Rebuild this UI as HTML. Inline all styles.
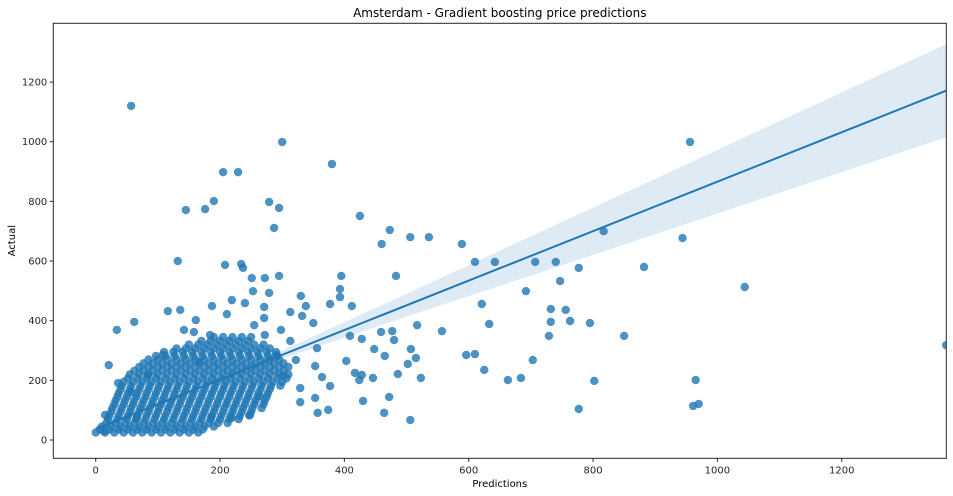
<!DOCTYPE html>
<html><head><meta charset="utf-8"><style>
body{margin:0;background:#fff;}
svg{display:block;font-family:"DejaVu Sans","Liberation Sans",sans-serif;}
</style></head><body>
<svg id="chart" width="953" height="496" viewBox="0 0 953 496">
<defs><clipPath id="plotclip"><rect x="53.3" y="23.3" width="893" height="435"/></clipPath></defs>
<text x="499.8" y="17" text-anchor="middle" font-size="12" fill="#000">Amsterdam - Gradient boosting price predictions</text>
<text x="499.8" y="487" text-anchor="middle" font-size="10" fill="#000">Predictions</text>
<text x="15" y="240.7" text-anchor="middle" font-size="10" fill="#000" transform="rotate(-90 15 240.7)">Actual</text>
<g clip-path="url(#plotclip)">
<g id="band"></g>
<g id="points"></g>
<g id="reg"></g>
</g>
<g id="axes"></g>
</svg>
<script>
const xTicks=[0,200,400,600,800,1000,1200];
const yTicks=[0,200,400,600,800,1000,1200];
const blobActual=[25,45,70,95,120,145,170,195,220,245,270,295,320,345,
35,57,82,107,132,157,182,207,232,257,282,307,332];
const blobPred=[
[0,15,30,45,60,75,90,105,120,135,150,165],
[10,25,40,55,70,85,100,115,130,145,160,175,190],
[20,35,50,65,80,95,110,125,140,155,170,185,200,215,230],
[25,40,55,70,85,100,115,130,145,160,175,190,205,220,235,250],
[30,45,60,75,90,105,120,135,150,165,180,195,210,225,240,255,270],
[35,50,65,80,95,110,125,140,155,170,185,200,215,230,245,260,275],
[40,55,70,85,100,115,130,145,160,175,190,205,220,235,250,265,280],
[45,60,75,90,105,120,135,150,165,180,195,210,225,240,255,270,285,300],
[55,70,85,100,115,130,145,160,175,190,205,220,235,250,265,280,295,310],
[70,85,100,115,130,145,160,175,190,205,220,235,250,265,280,295,310],
[85,100,115,130,145,160,175,190,205,220,235,250,265,280,295],
[110,125,140,155,170,185,200,215,230,245,260,275,290],
[150,165,180,195,210,225,240,255,270],
[190,205,220,235,250],
[7,22,37,52,67,82,97,112,127,142,157,172],
[17,32,47,62,77,92,107,122,137,152,167,182,197,212],
[22,37,52,67,82,97,112,127,142,157,172,187,202,217,232,247],
[27,42,57,72,87,102,117,132,147,162,177,192,207,222,237,252,267],
[32,47,62,77,92,107,122,137,152,167,182,197,212,227,242,257,272],
[37,52,67,82,97,112,127,142,157,172,187,202,217,232,247,262,277],
[42,57,72,87,102,117,132,147,162,177,192,207,222,237,252,267,282,297],
[52,67,82,97,112,127,142,157,172,187,202,217,232,247,262,277,292,307],
[62,77,92,107,122,137,152,167,182,197,212,227,242,257,272,287,302],
[77,92,107,122,137,152,167,182,197,212,227,242,257,272,287,302],
[97,112,127,142,157,172,187,202,217,232,247,262,277,292],
[130,145,160,175,190,205,220,235,250,265,280],
[170,185,200,215,230,245]];
const outlierPred=[57,300,956,380,205,229,190,279,176,295,145,425,473,506,536,460,589,287,610,642,707,740,777,817,882,944,1044,747,692,483,395,393,393,377,517,621,633,459,477,428,448,480,507,417,428,465,502,515,732,756,763,732,729,795,703,850,802,472,506,464,523,486,596,610,625,663,684,965,961,970,777,1368,424,446,430,557,329,353,364,377,353,357,374,403,409,412,350,313,356,290,301,322,313,298,272,255,271,271,240,234,237,295,251,208,132,116,161,136,142,158,62,34,21,36,66,166,330,338,332,279,253,272,219,187,211,184,329,264,248,219,186,84,108,57,15,13];
const outlierActual=[1120,999,999,925,898,898,801,798,774,778,771,751,704,680,680,657,657,711,597,597,597,597,577,700,580,677,513,533,499,550,550,506,479,456,385,456,389,362,365,339,305,335,305,225,218,282,255,275,439,436,399,396,349,392,268,349,198,144,67,91,208,221,285,288,235,201,208,201,114,121,104,318,201,208,131,365,174,248,211,181,141,91,101,265,349,449,392,429,308,285,215,268,332,369,352,385,409,446,459,590,577,550,543,587,600,432,402,436,369,362,396,369,251,191,74,261,483,449,416,493,499,543,469,449,422,352,127,147,84,74,77,218,285,161,84,30];
const regX=[0,1368];
const regY=[37,1171];
const bandX=[0,150,300,500,700,900,1100,1368];
const bandUpper=[47,168,300,490,683,876,1069,1327];
const bandLower=[27,154,272,414,551,690,829,1015];

const L=53.3,R=946.3,T=23.3,B=458.3;
const xMin=-68.2,xMax=1368.2,yMin=-61.3,yMax=1397;
const sx=v=>L+(v-xMin)/(xMax-xMin)*(R-L);
const sy=v=>B-(v-yMin)/(yMax-yMin)*(B-T);
const NS='http://www.w3.org/2000/svg';
function mk(tag,attrs,parent){const e=document.createElementNS(NS,tag);for(const k in attrs)e.setAttribute(k,attrs[k]);parent.appendChild(e);return e;}

const band=document.getElementById('band');
let d='M'+bandX.map((x,i)=>sx(x)+','+sy(bandUpper[i])).join('L');
for(let i=bandX.length-1;i>=0;i--)d+='L'+sx(bandX[i])+','+sy(bandLower[i]);
const bp=mk('path',{d:d+'Z',fill:'#1f77b4','fill-opacity':0.15},band);



const pts=document.getElementById('points');
function dot(x,y){const c=mk('circle',{cx:sx(x),cy:sy(y),r:4.2,fill:'#1f77b4','fill-opacity':0.8},pts);

}
blobActual.forEach((y,i)=>blobPred[i].forEach(x=>dot(x,y)));
outlierPred.forEach((x,i)=>dot(x,outlierActual[i]));

const reg=document.getElementById('reg');
const rl=mk('line',{x1:sx(regX[0]),y1:sy(regY[0]),x2:sx(regX[1]),y2:sy(regY[1]),stroke:'#1f77b4','stroke-width':2},reg);



const ax=document.getElementById('axes');
const fr=mk('rect',{x:L,y:T,width:R-L,height:B-T,fill:'none',stroke:'#262626','stroke-width':1},ax);


xTicks.forEach(v=>{const x=sx(v);
const tk=mk('line',{x1:x,y1:B,x2:x,y2:B+3.5,stroke:'#262626'},ax);


const t=mk('text',{x:x,y:B+15,'text-anchor':'middle','font-size':10,fill:'#262626'},ax);t.textContent=v;

});
yTicks.forEach(v=>{const y=sy(v);
const tk=mk('line',{x1:L-3.5,y1:y,x2:L,y2:y,stroke:'#262626'},ax);


const t=mk('text',{x:L-6,y:y+3.5,'text-anchor':'end','font-size':10,fill:'#262626'},ax);t.textContent=v;

});
</script>
</body></html>
